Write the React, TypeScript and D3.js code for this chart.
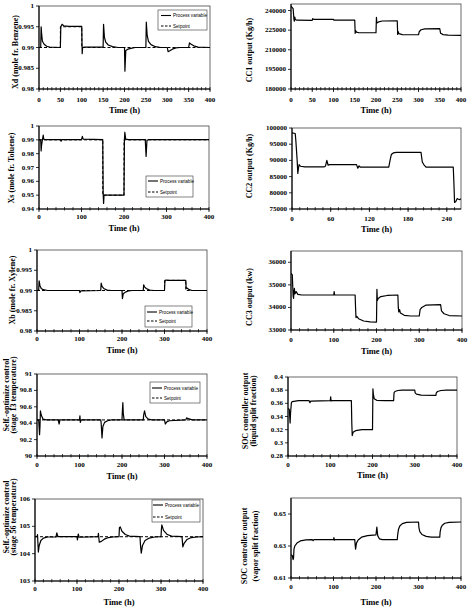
import React from 'react';
import * as d3 from 'd3';

type Pt = [number, number];

// ---- time axes ----
const ticks50 = [0, 50, 100, 150, 200, 250, 300, 350, 400];
const ticks100 = [0, 100, 200, 300, 400];
const ticks60 = [0, 60, 120, 180, 240];

// ---- Xd (benzene) ----
const xdTicks = [0.98, 0.985, 0.99, 0.995, 1];
const xdSetpoint: Pt[] = [[0, 0.99], [50, 0.99], [50, 0.995], [100, 0.995], [100, 0.99], [400, 0.99]];
const xdProcess: Pt[] = [
  [0, 0.99], [4, 0.99], [5, 0.995], [6, 0.9935], [8, 0.9915], [12, 0.9908], [18, 0.9903], [25, 0.9901], [50, 0.99],
  [51, 0.995], [54, 0.9956], [58, 0.9952], [70, 0.9951], [100, 0.9951], [101, 0.9885], [102, 0.99], [106, 0.9901],
  [150, 0.9901], [151, 0.9956], [153, 0.9925], [156, 0.9913], [162, 0.9906], [172, 0.9902], [185, 0.99], [200, 0.99],
  [201, 0.9843], [203, 0.9893], [208, 0.9896], [215, 0.9898], [225, 0.99], [250, 0.99], [251, 0.9961], [253, 0.993],
  [256, 0.9915], [262, 0.9907], [272, 0.9902], [285, 0.99], [300, 0.99], [302, 0.989], [306, 0.9892], [312, 0.9896],
  [320, 0.9899], [330, 0.99], [350, 0.99], [352, 0.9911], [356, 0.9908], [362, 0.9904], [372, 0.9901], [400, 0.99],
];

// ---- CC1 output ----
const cc1Ticks = [180000, 195000, 210000, 225000, 240000];
const cc1Output: Pt[] = [
  [0, 243500], [2, 242500], [5, 241500], [7, 233000], [8, 231800], [9, 235000], [10, 233200], [14, 232600],
  [50, 232500], [51, 233800], [53, 233300], [100, 233300], [101, 232600], [150, 232600], [151, 222500],
  [152, 224600], [154, 223500], [160, 223000], [200, 223000], [201, 234800], [202, 230500], [206, 231300],
  [215, 232000], [250, 232200], [251, 221700], [252, 224000], [254, 222300], [262, 221600], [300, 221500],
  [302, 224000], [306, 225300], [315, 226000], [350, 226200], [352, 222600], [358, 221600], [370, 221200], [400, 221000],
];

// ---- Xs (toluene) ----
const xsTicks = [0.94, 0.95, 0.96, 0.97, 0.98, 0.99, 1];
const xsSetpoint: Pt[] = [[0, 0.99], [150, 0.99], [150, 0.95], [200, 0.95], [200, 0.99], [400, 0.99]];
const xsProcess: Pt[] = [
  [0, 0.99], [4, 0.99], [5, 0.982], [6, 0.986], [8, 0.99], [10, 0.9935], [11, 0.9905], [14, 0.9902], [50, 0.9902],
  [52, 0.989], [54, 0.9902], [100, 0.9902], [102, 0.9925], [104, 0.9905], [150, 0.9902], [151, 0.951], [152, 0.944],
  [153, 0.95], [200, 0.95], [201, 0.99], [202, 0.9955], [204, 0.9905], [210, 0.9902], [250, 0.9902], [252, 0.978],
  [254, 0.9895], [258, 0.9902], [400, 0.9902],
];

// ---- CC2 output ----
const cc2Ticks = [75000, 80000, 85000, 90000, 95000, 100000];
const cc2Output: Pt[] = [
  [0, 98500], [5, 98300], [6, 96000], [8, 90000], [9, 86000], [10, 87500], [11, 88700], [13, 88200], [20, 88000],
  [50, 88000], [52, 88300], [54, 90000], [56, 88500], [58, 88700], [100, 88700], [102, 87600], [104, 88300],
  [106, 87900], [150, 87900], [152, 90000], [154, 91800], [157, 92300], [162, 92500], [200, 92500], [202, 89500],
  [204, 88800], [206, 88300], [208, 87900], [250, 87900], [251, 83000], [252, 77000], [254, 77300], [256, 78200],
  [258, 78000], [260, 77900], [262, 78200],
];

// ---- Xb (xylene) ----
const xbTicks = [0.98, 0.985, 0.99, 0.995, 1];
const xbSetpoint: Pt[] = [[0, 0.99], [300, 0.99], [300, 0.9925], [350, 0.9925], [350, 0.99], [400, 0.99]];
const xbProcess: Pt[] = [
  [0, 0.99], [4, 0.9901], [5, 0.9924], [7, 0.9912], [10, 0.9905], [15, 0.9902], [25, 0.99], [100, 0.99],
  [101, 0.9895], [103, 0.9899], [150, 0.99], [151, 0.9918], [153, 0.991], [157, 0.9905], [165, 0.9901], [175, 0.99],
  [200, 0.99], [201, 0.988], [203, 0.9892], [208, 0.9896], [215, 0.9899], [225, 0.99], [250, 0.99], [251, 0.9914],
  [253, 0.9909], [257, 0.9905], [265, 0.9901], [275, 0.99], [300, 0.99], [301, 0.9922], [303, 0.9926], [310, 0.9925],
  [350, 0.9925], [351, 0.9905], [353, 0.9906], [358, 0.9902], [365, 0.99], [400, 0.99],
];

// ---- CC3 output ----
const cc3Ticks = [33000, 34000, 35000, 36000];
const cc3Output: Pt[] = [
  [0, 35500], [3, 35450], [5, 34500], [6, 34400], [7, 34700], [8, 34850], [9, 34600], [12, 34700], [16, 34580],
  [25, 34550], [100, 34550], [101, 34700], [102, 34560], [150, 34550], [151, 34000], [152, 33550], [154, 33600],
  [158, 33500], [170, 33400], [185, 33360], [200, 33350], [201, 34800], [202, 34300], [204, 34400], [210, 34480],
  [225, 34530], [250, 34550], [251, 34000], [252, 33800], [254, 33900], [256, 33750], [265, 33650], [280, 33620],
  [300, 33620], [302, 33900], [306, 34000], [315, 34100], [350, 34120], [352, 33850], [358, 33720], [370, 33640],
  [400, 33620],
];

// ---- stage 13 temperature ----
const t13Ticks = [90, 90.2, 90.4, 90.6, 90.8, 91];
const t13Setpoint: Pt[] = [[0, 90.44], [400, 90.44]];
const t13Process: Pt[] = [
  [0, 90.44], [4, 90.44], [6, 90.26], [7, 90.36], [8, 90.55], [10, 90.5], [14, 90.45], [22, 90.44], [50, 90.44],
  [52, 90.39], [54, 90.44], [100, 90.44], [101, 90.49], [102, 90.41], [104, 90.44], [150, 90.44], [151, 90.4],
  [153, 90.22], [155, 90.36], [159, 90.41], [166, 90.43], [175, 90.44], [200, 90.44], [201, 90.56], [202, 90.65],
  [203, 90.52], [205, 90.44], [250, 90.44], [251, 90.5], [253, 90.55], [256, 90.48], [262, 90.45], [270, 90.44],
  [300, 90.44], [302, 90.39], [306, 90.42], [312, 90.43], [350, 90.44], [352, 90.465], [356, 90.455], [365, 90.44],
  [400, 90.44],
];

// ---- liquid split fraction ----
const liqTicks = [0.28, 0.3, 0.32, 0.34, 0.36, 0.38, 0.4];
const liqSplit: Pt[] = [
  [0, 0.352], [3, 0.351], [5, 0.33], [6, 0.345], [8, 0.361], [10, 0.3625], [14, 0.363], [25, 0.364], [50, 0.364],
  [52, 0.361], [54, 0.3635], [100, 0.364], [101, 0.37], [102, 0.3635], [104, 0.364], [150, 0.364], [151, 0.33],
  [152, 0.311], [154, 0.316], [160, 0.3185], [175, 0.32], [200, 0.32], [201, 0.382], [202, 0.374], [204, 0.367],
  [210, 0.3645], [230, 0.364], [250, 0.364], [251, 0.376], [253, 0.378], [260, 0.3795], [270, 0.38], [300, 0.38],
  [301, 0.376], [304, 0.374], [315, 0.3725], [350, 0.372], [351, 0.376], [354, 0.378], [362, 0.3795], [375, 0.38],
  [400, 0.38],
];

// ---- stage 56 temperature ----
const t56Ticks = [103, 104, 105, 106];
const t56Setpoint: Pt[] = [[0, 104.62], [400, 104.62]];
const t56Process: Pt[] = [
  [0, 104.62], [5, 104.62], [6, 104.7], [8, 104.06], [10, 104.3], [14, 104.48], [20, 104.57], [30, 104.61],
  [50, 104.61], [52, 104.76], [54, 104.65], [56, 104.62], [100, 104.62], [101, 104.5], [103, 104.72], [105, 104.6],
  [150, 104.62], [151, 104.74], [153, 104.42], [158, 104.45], [165, 104.53], [175, 104.59], [185, 104.61],
  [200, 104.62], [201, 104.95], [203, 104.98], [207, 104.82], [215, 104.7], [225, 104.64], [250, 104.62],
  [251, 104.35], [253, 104.02], [256, 104.3], [262, 104.48], [272, 104.57], [285, 104.61], [300, 104.62],
  [301, 104.9], [302, 105.05], [306, 104.85], [315, 104.7], [325, 104.64], [350, 104.62], [352, 104.25],
  [355, 104.38], [362, 104.52], [372, 104.59], [385, 104.61], [400, 104.62],
];

// ---- vapor split fraction ----
const vapTicks = [0.61, 0.63, 0.65];
const vapSplit: Pt[] = [
  [0, 0.6245], [3, 0.624], [5, 0.6215], [6, 0.6225], [7, 0.628], [9, 0.63], [14, 0.6318], [22, 0.6332],
  [35, 0.6338], [50, 0.634], [52, 0.6333], [54, 0.634], [100, 0.634], [101, 0.6352], [102, 0.6336], [104, 0.634],
  [150, 0.634], [151, 0.6305], [152, 0.628], [154, 0.6318], [158, 0.6338], [166, 0.6355], [180, 0.6365],
  [200, 0.637], [201, 0.6395], [202, 0.6418], [204, 0.6365], [208, 0.6345], [215, 0.634], [250, 0.634],
  [251, 0.637], [253, 0.6405], [256, 0.6425], [262, 0.644], [272, 0.6448], [300, 0.645], [301, 0.6415],
  [303, 0.639], [308, 0.6372], [318, 0.636], [330, 0.6355], [350, 0.6355], [351, 0.639], [353, 0.6415],
  [356, 0.643], [362, 0.6442], [372, 0.6448], [400, 0.645],
];

const SERIF = '"Times New Roman", "Liberation Serif", serif';
const SANS = 'Arial, "Liberation Sans", sans-serif';

interface PanelSpec {
  id: string;
  box: [number, number, number, number]; // x0, x1, y0, y1
  xDomain: [number, number];
  xTicks: number[];
  minorStep: number;
  yDomain: [number, number];
  yTicks: number[];
  process: Pt[];
  setpoint?: Pt[];
  title: string[];
  titleX: number[];
  titleY: number;
  xLabelY: number;
  timeY: number;
  legend?: { x0: number; y0: number; x1: number; y1: number; pvY: number; spY: number; lx: number };
}

const panels: PanelSpec[] = [
  {
    id: 'xd', box: [39, 210, 6, 89], xDomain: [0, 400], xTicks: ticks50, minorStep: 10,
    yDomain: [0.98, 1], yTicks: xdTicks, process: xdProcess, setpoint: xdSetpoint,
    title: ['Xd (mole fr. Benzene)'], titleX: [15], titleY: 52, xLabelY: 100, timeY: 110,
    legend: { x0: 158, y0: 10, x1: 207, y1: 30, pvY: 15.5, spY: 26, lx: 161 },
  },
  {
    id: 'cc1', box: [291, 461, 4, 89], xDomain: [0, 400], xTicks: ticks50, minorStep: 10,
    yDomain: [180000, 245000], yTicks: cc1Ticks, process: cc1Output,
    title: ['CC1 output (Kg/h)'], titleX: [249], titleY: 50, xLabelY: 100, timeY: 110,
  },
  {
    id: 'xs', box: [39, 209, 126, 209], xDomain: [0, 400], xTicks: ticks100, minorStep: 20,
    yDomain: [0.94, 1], yTicks: xsTicks, process: xsProcess, setpoint: xsSetpoint,
    title: ['Xs (mole fr. Toluene)'], titleX: [11], titleY: 168, xLabelY: 217, timeY: 228,
    legend: { x0: 146, y0: 176, x1: 193, y1: 197, pvY: 181, spY: 192, lx: 148 },
  },
  {
    id: 'cc2', box: [292, 461, 128, 209], xDomain: [0, 262], xTicks: ticks60, minorStep: 12,
    yDomain: [75000, 100000], yTicks: cc2Ticks, process: cc2Output,
    title: ['CC2 output (Kg/h)'], titleX: [249], titleY: 166, xLabelY: 219, timeY: 229,
  },
  {
    id: 'xb', box: [37, 207, 250, 331], xDomain: [0, 400], xTicks: ticks100, minorStep: 20,
    yDomain: [0.98, 1], yTicks: xbTicks, process: xbProcess, setpoint: xbSetpoint,
    title: ['Xb (mole fr. Xylene)'], titleX: [12], titleY: 290, xLabelY: 339, timeY: 350,
    legend: { x0: 145, y0: 306, x1: 192, y1: 327, pvY: 312, spY: 321, lx: 147 },
  },
  {
    id: 'cc3', box: [291, 462, 251, 330], xDomain: [0, 400], xTicks: ticks100, minorStep: 20,
    yDomain: [33000, 36500], yTicks: cc3Ticks, process: cc3Output,
    title: ['CC3 output (kw)'], titleX: [249], titleY: 297, xLabelY: 340, timeY: 351,
  },
  {
    id: 't13', box: [37, 207, 374, 456], xDomain: [0, 400], xTicks: ticks100, minorStep: 20,
    yDomain: [90, 91], yTicks: t13Ticks, process: t13Process, setpoint: t13Setpoint,
    title: ['Self.-optimize control', '(stage 13 temperature)'], titleX: [6, 13], titleY: 395,
    xLabelY: 465, timeY: 476,
    legend: { x0: 150, y0: 382, x1: 200, y1: 403, pvY: 388, spY: 398, lx: 152 },
  },
  {
    id: 'liq', box: [288, 457, 377, 456], xDomain: [0, 400], xTicks: ticks100, minorStep: 20,
    yDomain: [0.28, 0.4], yTicks: liqTicks, process: liqSplit,
    title: ['SOC controller output', '(liquid split fraction)'], titleX: [245, 253], titleY: 411,
    xLabelY: 465, timeY: 475,
  },
  {
    id: 't56', box: [35, 203, 499, 581], xDomain: [0, 400], xTicks: ticks100, minorStep: 20,
    yDomain: [103, 106], yTicks: t56Ticks, process: t56Process, setpoint: t56Setpoint,
    title: ['Self.-optimize control', '(stage 56 temperature)'], titleX: [6, 13], titleY: 517,
    xLabelY: 589, timeY: 602,
    legend: { x0: 152, y0: 500, x1: 200, y1: 522, pvY: 505, spY: 517, lx: 153 },
  },
  {
    id: 'vap', box: [291, 461, 498, 578], xDomain: [0, 400], xTicks: ticks100, minorStep: 20,
    yDomain: [0.61, 0.66], yTicks: vapTicks, process: vapSplit,
    title: ['SOC controller output', '(vapor split fraction)'], titleX: [244, 255], titleY: 546,
    xLabelY: 587, timeY: 602,
  },
];

const Panel = ({ spec }: { spec: PanelSpec }) => {
  const [x0, x1, y0, y1] = spec.box;
  const x = d3.scaleLinear().domain(spec.xDomain).range([x0, x1]);
  const y = d3.scaleLinear().domain(spec.yDomain).range([y1, y0]);
  const line = d3.line<Pt>().x(d => x(d[0])).y(d => y(d[1]));
  const minor = d3.range(spec.xDomain[0], spec.xDomain[1] + 1e-9, spec.minorStep);
  const clipId = `clip-${spec.id}`;
  const lg = spec.legend;

  return (
    <g>
      <clipPath id={clipId}>
        <rect x={x0} y={y0 - 1} width={x1 - x0} height={y1 - y0 + 2} />
      </clipPath>
      <rect x={x0} y={y0} width={x1 - x0} height={y1 - y0} fill="none" stroke="#444" strokeWidth={0.8} />
      {/* axes */}
      <line x1={x0} x2={x0} y1={y0} y2={y1} stroke="#000" strokeWidth={1.1} />
      <line x1={x0} x2={x1} y1={y1} y2={y1} stroke="#000" strokeWidth={1.1} />
      {minor.map(t => (
        <line key={`m${t}`} x1={x(t)} x2={x(t)} y1={y1 - 2} y2={y1 + 1.5} stroke="#000" strokeWidth={0.7} />
      ))}
      {spec.xTicks.map(t => (
        <g key={`x${t}`}>
          <line x1={x(t)} x2={x(t)} y1={y1} y2={y1 + 3} stroke="#000" strokeWidth={0.8} />
          <text x={x(t)} y={spec.xLabelY} textAnchor="middle" dominantBaseline="central"
            fontFamily={SERIF} fontWeight="bold" fontSize={7}>{String(t)}</text>
        </g>
      ))}
      {spec.yTicks.map(t => (
        <g key={`y${t}`}>
          <line x1={x0 - 3} x2={x0} y1={y(t)} y2={y(t)} stroke="#000" strokeWidth={0.8} />
          <text x={x0 - 5} y={y(t)} textAnchor="end" dominantBaseline="central"
            fontFamily={SERIF} fontWeight="bold" fontSize={7}>{String(t)}</text>
        </g>
      ))}
      <text x={(x0 + x1) / 2} y={spec.timeY} textAnchor="middle" dominantBaseline="central"
        fontFamily={SERIF} fontWeight="bold" fontSize={8.5}>Time (h)</text>
      {spec.title.map((s, i) => (
        <text key={s} transform={`translate(${spec.titleX[i]},${spec.titleY}) rotate(-90)`}
          textAnchor="middle" dominantBaseline="central"
          fontFamily={SERIF} fontWeight="bold" fontSize={8}>{s}</text>
      ))}
      {/* series */}
      <g clipPath={`url(#${clipId})`}>
        {spec.setpoint && (
          <path d={line(spec.setpoint) ?? ''} fill="none" stroke="#000" strokeWidth={1} strokeDasharray="3,2" />
        )}
        <path d={line(spec.process) ?? ''} fill="none" stroke="#000" strokeWidth={1.2} strokeLinejoin="round" />
      </g>
      {lg && (
        <g>
          <rect x={lg.x0} y={lg.y0} width={lg.x1 - lg.x0} height={lg.y1 - lg.y0} fill="#fff" stroke="#333" strokeWidth={0.6} />
          <line x1={lg.lx} x2={lg.lx + 10} y1={lg.pvY} y2={lg.pvY} stroke="#000" strokeWidth={1.1} />
          <text x={lg.lx + 12} y={lg.pvY} dominantBaseline="central" fontFamily={SANS} fontSize={4.6}>Process variable</text>
          <line x1={lg.lx} x2={lg.lx + 10} y1={lg.spY} y2={lg.spY} stroke="#000" strokeWidth={1} strokeDasharray="2.5,1.5" />
          <text x={lg.lx + 12} y={lg.spY} dominantBaseline="central" fontFamily={SANS} fontSize={4.6}>Setpoint</text>
        </g>
      )}
    </g>
  );
};

export default function App() {
  return (
    <svg width={468} height={609} viewBox="0 0 468 609"
      style={{ position: 'absolute', left: 0, top: 0, background: '#fff' }}>
      <rect width={468} height={609} fill="#fff" />
      {panels.map(p => <Panel key={p.id} spec={p} />)}
    </svg>
  );
}
